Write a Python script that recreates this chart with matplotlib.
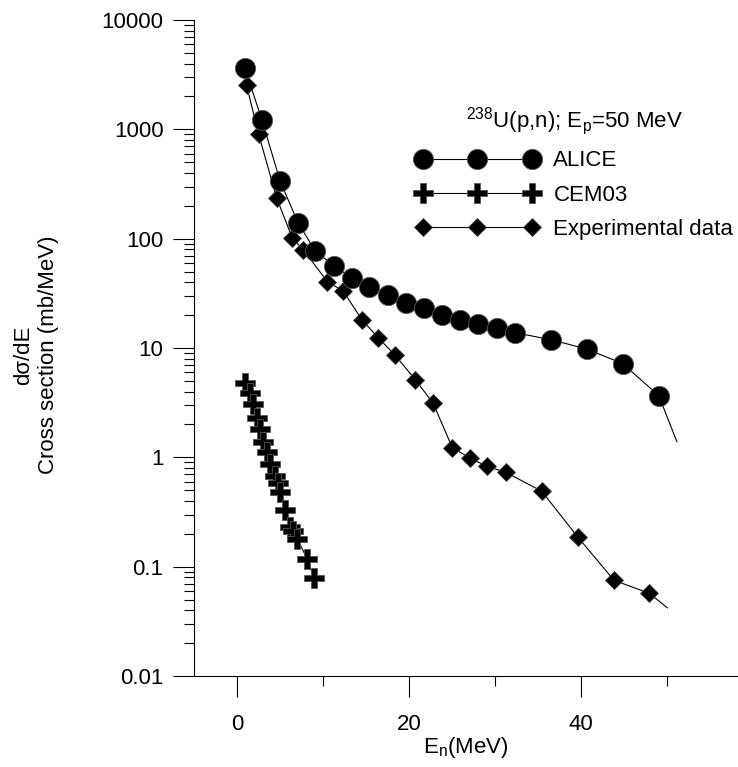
import numpy as np
import matplotlib.pyplot as plt
from matplotlib.ticker import FixedLocator, LogLocator, FuncFormatter, NullFormatter

plt.rcParams['font.family'] = ['Liberation Sans', 'DejaVu Sans']
plt.rcParams['mathtext.default'] = 'regular'

# ALICE calculation (MeV, mb/MeV)
alice_e = [0.9, 2.9, 5.0, 7.1, 9.1, 11.3, 13.4, 15.3, 17.5, 19.6, 21.7,
           23.8, 25.9, 28.0, 30.2, 32.3, 36.5, 40.6, 44.8, 49.0]
alice_xs = [3630, 1216, 337, 139, 77, 56, 43.7, 36.1, 30.5, 25.8, 23.3,
            20.1, 18.1, 16.6, 15.3, 13.8, 11.9, 9.8, 7.2, 3.66]
# tail of the ALICE curve past the last marker
alice_tail_e = [49.0, 51.1]
alice_tail_xs = [3.66, 1.39]

# CEM03 calculation
cem_e = [0.96, 1.54, 1.89, 2.36, 2.70, 3.05, 3.52, 3.86, 4.44, 4.79,
         5.02, 5.60, 6.18, 6.53, 7.0, 8.16, 8.97]
cem_xs = [4.82, 3.91, 3.10, 2.31, 1.80, 1.37, 1.11, 0.86, 0.67, 0.58,
          0.48, 0.33, 0.23, 0.21, 0.18, 0.117, 0.078]

# measured spectrum
exp_e = [1.1, 2.5, 4.6, 6.4, 7.7, 10.5, 12.3, 14.5, 16.4, 18.3, 20.7,
         22.8, 25.0, 27.1, 29.0, 31.2, 35.4, 39.6, 43.8, 47.9]
exp_xs = [2540, 906, 236, 102, 79, 40.4, 33.4, 18.2, 12.4, 8.7, 5.15,
          3.11, 1.23, 0.98, 0.83, 0.73, 0.49, 0.186, 0.075, 0.057]
exp_tail_e = [47.9, 50.0]
exp_tail_xs = [0.057, 0.042]

W, H = 738, 767
fig = plt.figure(figsize=(W / 100, H / 100), dpi=100)
ax = fig.add_axes([194 / W, 1 - 676 / H, 544 / W, (676 - 20) / H])

lw = 0.8
exp_line, = ax.plot(exp_e, exp_xs, color='k', lw=lw, marker='D', ms=9.5,
                    mfc='k', mec='#444444', mew=0.6, zorder=3)
ax.plot(exp_tail_e, exp_tail_xs, color='k', lw=lw, zorder=2)
cem_line, = ax.plot(cem_e, cem_xs, color='k', lw=lw, marker='P', ms=14,
                    mfc='k', mec='#555555', mew=0.6, zorder=3)
alice_line, = ax.plot(alice_e, alice_xs, color='k', lw=lw, marker='o', ms=14.5,
                      mfc='k', mec='#555555', mew=0.6, zorder=4)
ax.plot(alice_tail_e, alice_tail_xs, color='k', lw=lw, zorder=2)

ax.set_yscale('log')
ax.set_xlim(-5, 58.2)
ax.set_ylim(0.01, 10000)

ax.xaxis.set_major_locator(FixedLocator([0, 20, 40]))
ax.xaxis.set_minor_locator(FixedLocator([10, 30, 50]))
ax.yaxis.set_major_locator(LogLocator(base=10, numticks=20))
ax.yaxis.set_minor_locator(LogLocator(base=10, subs=np.arange(2, 10), numticks=20))
ax.yaxis.set_major_formatter(FuncFormatter(lambda v, p: f'{v:g}'))
ax.yaxis.set_minor_formatter(NullFormatter())

ax.tick_params(which='major', direction='out', length=15, width=0.8,
               labelsize=16, pad=7)
ax.tick_params(which='minor', direction='out', length=7.5, width=0.8)
ax.tick_params(axis='x', which='major', pad=12)

for side in ('top', 'right'):
    ax.spines[side].set_visible(False)
for side in ('left', 'bottom'):
    ax.spines[side].set_linewidth(0.8)

ax.set_xlabel('E$_n$(MeV)', fontsize=16, labelpad=0)
fig.text(36 / W, 1 - 355 / H, 'dσ/dE\nCross section (mb/MeV)', rotation=90,
         ha='center', va='center', multialignment='center', fontsize=16)

leg = ax.legend([alice_line, cem_line, exp_line],
                ['ALICE', 'CEM03', 'Experimental data'],
                title='$^{238}$U(p,n); E$_p$=50 MeV', title_fontsize=16,
                fontsize=16, numpoints=3, frameon=False, handlelength=5.5,
                handletextpad=0.68, labelspacing=0.6, borderpad=0,
                loc='upper left', bbox_to_anchor=(405 / W, 1 - 94 / H),
                bbox_transform=fig.transFigure)

fig.savefig('out.png', dpi=100)
